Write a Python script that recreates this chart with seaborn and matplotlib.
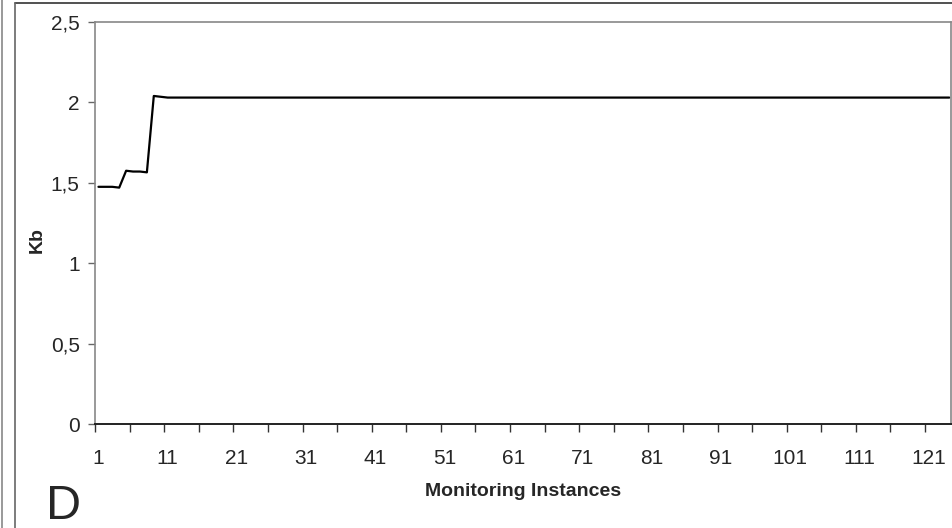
import numpy as np
import pandas as pd
import matplotlib
matplotlib.use("Agg")
import matplotlib.pyplot as plt
import seaborn as sns
from matplotlib.ticker import FuncFormatter, FixedLocator

# -----------------------------
# Data
# -----------------------------
n_instances = 124
kb_start = [1.475, 1.475, 1.475, 1.47, 1.575, 1.57, 1.57, 1.565, 2.04, 2.035]
kb_plateau = 2.03
kb_values = kb_start + [kb_plateau] * (n_instances - len(kb_start))
instances = list(range(1, n_instances + 1))

x_labels = list(range(1, 122, 10))
y_ticks = [0, 0.5, 1, 1.5, 2, 2.5]

df = pd.DataFrame({"Monitoring Instances": instances, "Kb": kb_values})

# -----------------------------
# Style
# -----------------------------
sns.set_style("white")
plt.rcParams["font.family"] = ["Liberation Sans", "DejaVu Sans"]

fig = plt.figure(figsize=(9.53, 5.28), dpi=100)
ax = fig.add_axes([95 / 953, 1 - 424 / 528, (951 - 95) / 953, (424 - 22) / 528])

sns.lineplot(data=df, x="Monitoring Instances", y="Kb", ax=ax,
             color="black", linewidth=1.6)

ax.set_xlim(0.5, n_instances + 0.25)
ax.set_ylim(0, 2.5)

# category-style axis: ticks between categories, labels every 10
ax.xaxis.set_major_locator(FixedLocator(x_labels))
ax.xaxis.set_minor_locator(FixedLocator(np.arange(0.5, n_instances, 5)))
ax.set_xticklabels([str(v) for v in x_labels])
ax.tick_params(axis="x", which="major", length=0, pad=18, labelsize=15)
ax.tick_params(axis="x", which="minor", length=6, width=1, color="#333333",
               direction="out", bottom=True)

ax.set_yticks(y_ticks)
ax.yaxis.set_major_formatter(FuncFormatter(lambda v, p: f"{v:g}".replace(".", ",")))
ax.tick_params(axis="y", length=5, width=1, color="#666666", direction="out",
               left=True, pad=6, labelsize=15)

for side in ["top", "right", "left"]:
    ax.spines[side].set_color("#888888")
    ax.spines[side].set_linewidth(1.2)
ax.spines["bottom"].set_color("#222222")
ax.spines["bottom"].set_linewidth(1.4)

ax.set_xlabel("Monitoring Instances", fontsize=14, fontweight="bold", va="center")
ax.xaxis.set_label_coords(0.5, -0.168)
ax.set_ylabel("Kb", fontsize=14, fontweight="bold", va="center")
ax.yaxis.set_label_coords(-0.068, 0.458)

# panel letter and outer frame
fig.text(46 / 953, 1 - 519 / 528, "D", fontsize=35, ha="left", va="baseline")
fig.add_artist(plt.Line2D([15 / 953, 1], [1 - 3 / 528] * 2, color="#333333", lw=1.2))
fig.add_artist(plt.Line2D([15 / 953] * 2, [0, 1 - 3 / 528], color="#666666", lw=1.2))
fig.add_artist(plt.Line2D([2 / 953] * 2, [0, 1], color="#888888", lw=1.2))

fig.savefig("out.png", dpi=100)
